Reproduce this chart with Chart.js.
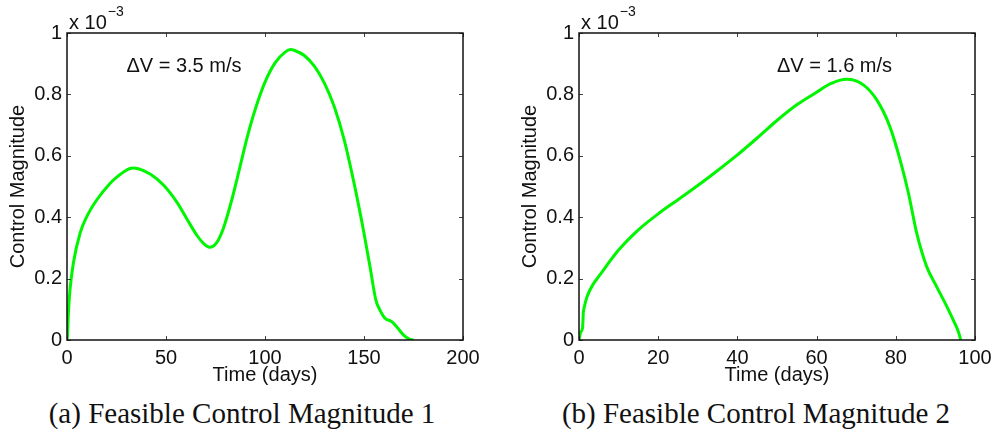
<!DOCTYPE html>
<html>
<head>
<meta charset="utf-8">
<script src="https://cdn.jsdelivr.net/npm/chart.js@4"></script>
<style>
  html, body { margin: 0; padding: 0; background: #fff; }
  #wrap { position: relative; width: 996px; height: 437px; overflow: hidden; }
  .panel { position: absolute; top: 0; width: 498px; height: 390px; }
  .caption {
    position: absolute; top: 397px; width: 498px; text-align: center;
    font-family: "Liberation Serif", "DejaVu Serif", serif; font-size: 29px; color: #111;
  }
</style>
</head>
<body>
<div id="wrap">
  <div class="panel" style="left:0"><canvas id="chartA" width="498" height="390"></canvas></div>
  <div class="panel" style="left:512px"><canvas id="chartB" width="498" height="390"></canvas></div>
  <div class="caption" style="left:-7px">(a) Feasible Control Magnitude 1</div>
  <div class="caption" style="left:507px">(b) Feasible Control Magnitude 2</div>
</div>
<script>
// Control magnitude, units of 1e-3, against time in days
const daysA = [0, 0.2, 0.7, 1.5, 3.2, 6.6, 10, 15, 21.7, 25, 30, 33, 36, 42, 48.7, 55.4, 60.4, 65.5, 68.9, 72,
  75.6, 79, 83.2, 87.4, 91, 95, 100, 105, 110, 113, 115, 120, 125, 130, 135, 140, 145, 150, 153, 156, 158,
  160.6, 164, 166.5, 170, 173.2, 175];
const magA = [0, 0.01, 0.087, 0.163, 0.25, 0.348, 0.402, 0.456, 0.51, 0.53, 0.553, 0.56, 0.558, 0.541, 0.505,
  0.45, 0.396, 0.342, 0.315, 0.302, 0.317, 0.364, 0.456, 0.565, 0.66, 0.75, 0.84, 0.902, 0.937, 0.946, 0.943,
  0.926, 0.891, 0.837, 0.76, 0.652, 0.51, 0.348, 0.24, 0.13, 0.098, 0.071, 0.06, 0.043, 0.016, 0.002, 0];

const daysB = [0, 0.4, 0.9, 1.1, 1.3, 2, 3.5, 5, 10, 15, 20, 25, 30, 35, 40, 45, 50, 55, 60, 63.4, 67.6, 71.8,
  75.2, 78.5, 81.1, 83.2, 85.3, 87.8, 90.3, 92.9, 94.9, 95.8, 96.4];
const magB = [0, 0.025, 0.04, 0.09, 0.105, 0.14, 0.18, 0.207, 0.293, 0.359, 0.411, 0.457, 0.503, 0.552, 0.603,
  0.658, 0.715, 0.766, 0.807, 0.834, 0.849, 0.831, 0.782, 0.695, 0.586, 0.478, 0.347, 0.239, 0.174, 0.109,
  0.054, 0.027, 0];

const yTicks = [0, 0.2, 0.4, 0.6, 0.8, 1];
const xTicksA = [0, 50, 100, 150, 200];
const xTicksB = [0, 20, 40, 60, 80, 100];
const labelA = 'ΔV = 3.5 m/s';
const labelB = 'ΔV = 1.6 m/s';

const SANS = '"Liberation Sans", Arial, Helvetica, sans-serif';

// MATLAB-like box, inward ticks, exponent and delta-V note
const matlabFrame = {
  id: 'matlabFrame',
  afterDraw(chart, args, opts) {
    const ctx = chart.ctx;
    const a = chart.chartArea;
    const xs = chart.scales.x, ys = chart.scales.y;
    ctx.save();
    ctx.strokeStyle = '#444';
    ctx.lineWidth = 1;
    ctx.beginPath();
    opts.xTicks.forEach(v => {
      const px = Math.round(xs.getPixelForValue(v)) + 0.5;
      ctx.moveTo(px, a.bottom); ctx.lineTo(px, a.bottom - 4);
      ctx.moveTo(px, a.top); ctx.lineTo(px, a.top + 4);
    });
    yTicks.forEach(v => {
      const py = Math.round(ys.getPixelForValue(v)) + 0.5;
      ctx.moveTo(a.left, py); ctx.lineTo(a.left + 4, py);
      ctx.moveTo(a.right, py); ctx.lineTo(a.right - 4, py);
    });
    ctx.stroke();
    ctx.strokeStyle = '#111';
    ctx.lineWidth = 1.5;
    ctx.strokeRect(a.left, a.top, a.right - a.left, a.bottom - a.top);

    ctx.fillStyle = '#111';
    ctx.textBaseline = 'alphabetic';
    ctx.textAlign = 'left';
    ctx.font = '20px ' + SANS;
    ctx.fillText('x 10', a.left + 2, a.top - 4);
    const w = ctx.measureText('x 10').width;
    ctx.font = '14px ' + SANS;
    ctx.fillText('\u22123', a.left + 3 + w, a.top - 17);

    ctx.font = '20px ' + SANS;
    ctx.fillText(opts.note, xs.getPixelForValue(opts.noteX), a.top + 39);
    ctx.restore();
  }
};

function makeChart(id, days, mag, xMax, xTicks, note, noteX) {
  return new Chart(document.getElementById(id), {
    type: 'scatter',
    data: {
      datasets: [{
        data: days.map((d, i) => ({ x: d, y: mag[i] })),
        showLine: true,
        borderColor: 'rgb(0,245,0)',
        borderWidth: 3,
        pointRadius: 0,
        cubicInterpolationMode: 'monotone'
      }]
    },
    options: {
      responsive: false,
      animation: false,
      events: [],
      layout: { padding: { left: 0, right: 35, top: 33, bottom: 5 } },
      plugins: {
        legend: { display: false },
        tooltip: { enabled: false },
        matlabFrame: { xTicks: xTicks, note: note, noteX: noteX }
      },
      scales: {
        x: {
          type: 'linear', min: 0, max: xMax,
          afterBuildTicks: s => { s.ticks = xTicks.map(v => ({ value: v })); },
          afterFit: s => { s.height = 45; },
          grid: { display: false, drawTicks: false },
          border: { display: false },
          ticks: { color: '#111', font: { family: SANS, size: 20 }, padding: 6, maxRotation: 0 },
          title: { display: true, text: 'Time (days)', color: '#111',
                   font: { family: SANS, size: 20, lineHeight: 1 }, padding: 0 }
        },
        y: {
          type: 'linear', min: 0, max: 1,
          afterBuildTicks: s => { s.ticks = yTicks.map(v => ({ value: v })); },
          afterFit: s => { s.width = 67; },
          grid: { display: false, drawTicks: false },
          border: { display: false },
          ticks: { color: '#111', font: { family: SANS, size: 20 }, padding: 5,
                   callback: v => String(Math.round(v * 10) / 10) },
          title: { display: true, text: 'Control Magnitude', color: '#111',
                   font: { family: SANS, size: 20, lineHeight: 1 }, padding: { top: 8, bottom: 0 } }
        }
      }
    },
    plugins: [matlabFrame]
  });
}

makeChart('chartA', daysA, magA, 200, xTicksA, labelA, 30);
makeChart('chartB', daysB, magB, 100, xTicksB, labelB, 50);
</script>
</body>
</html>
